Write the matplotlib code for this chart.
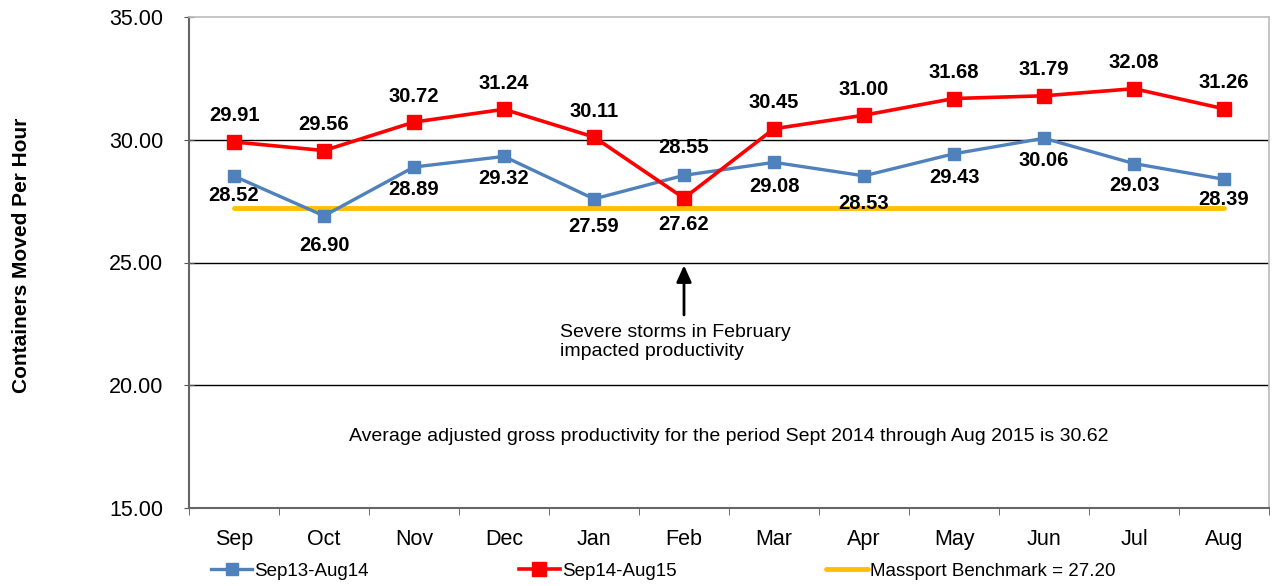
import matplotlib.pyplot as plt
import numpy as np

plt.rcParams['font.family'] = ['Liberation Sans', 'DejaVu Sans']

months = ['Sep', 'Oct', 'Nov', 'Dec', 'Jan', 'Feb', 'Mar', 'Apr', 'May', 'Jun', 'Jul', 'Aug']
prod_1314 = [28.52, 26.90, 28.89, 29.32, 27.59, 28.55, 29.08, 28.53, 29.43, 30.06, 29.03, 28.39]
prod_1415 = [29.91, 29.56, 30.72, 31.24, 30.11, 27.62, 30.45, 31.00, 31.68, 31.79, 32.08, 31.26]
benchmark = 27.20

# label offsets in pixels (dy), positive = above
off_1314 = [-19, -30, -22, -22, -28, 28, -24, -28, -24, -22, -22, -20]
off_1415 = [26, 26, 26, 26, 26, -26, 26, 26, 26, 26, 26, 26]


def main():
    fig = plt.figure(figsize=(12.75, 5.86), dpi=100)
    ax = fig.add_axes([189 / 1275, 1 - 508 / 586, (1269 - 189) / 1275, (508 - 17) / 586])

    x = np.arange(len(months))
    ax.plot(x, [benchmark] * len(x), color='#FFC000', lw=3.5, solid_capstyle='round',
            label='Massport Benchmark = 27.20', zorder=2)
    ax.plot(x, prod_1314, color='#4F81BD', lw=2.4, marker='s', ms=9, label='Sep13-Aug14', zorder=3)
    ax.plot(x, prod_1415, color='#FF0000', lw=2.6, marker='s', ms=10.5, label='Sep14-Aug15', zorder=4)

    for i in range(len(x)):
        ax.annotate('%.2f' % prod_1314[i], (x[i], prod_1314[i]), xytext=(0, off_1314[i] * 0.72),
                    textcoords='offset points', ha='center', va='center', fontsize=14.5,
                    fontweight='bold', zorder=5)
        ax.annotate('%.2f' % prod_1415[i], (x[i], prod_1415[i]), xytext=(0, off_1415[i] * 0.72),
                    textcoords='offset points', ha='center', va='center', fontsize=14.5,
                    fontweight='bold', zorder=5)

    ax.annotate('', xy=(5, 25.0), xytext=(5, 22.75),
                arrowprops=dict(arrowstyle='-|>,head_width=0.45,head_length=1.0', color='black', lw=2))
    ax.text(3.62, 21.75, 'Severe storms in February\nimpacted productivity', fontsize=14,
            ha='left', va='center', linespacing=1.15)
    ax.text(5.5, 17.9, 'Average adjusted gross productivity for the period Sept 2014 through Aug 2015 is 30.62',
            fontsize=14, ha='center', va='center')

    ax.set_xlim(-0.5, 11.5)
    ax.set_ylim(15, 35)
    ax.set_yticks([15, 20, 25, 30, 35])
    ax.set_yticklabels(['%.2f' % v for v in [15, 20, 25, 30, 35]], fontsize=15.5)
    ax.set_xticks(x)
    ax.set_xticklabels(months, fontsize=15.5)
    ax.set_xticks(np.arange(-0.5, 12, 1), minor=True)
    ax.tick_params(axis='x', which='major', length=0, pad=15)
    ax.tick_params(axis='x', which='minor', length=5, color='#555555')
    ax.tick_params(axis='y', length=7, direction='inout', color='#555555', pad=15)
    for v in [20, 25, 30]:
        ax.axhline(v, color='black', lw=1, zorder=1)
    for s in ['left', 'bottom']:
        ax.spines[s].set_color('#666666')
        ax.spines[s].set_linewidth(1.5)
    for s in ['top', 'right']:
        ax.spines[s].set_color('#BBBBBB')
        ax.spines[s].set_linewidth(1.2)

    fig.text(22 / 1275, 1 - 255 / 586, 'Containers Moved Per Hour', rotation=90, fontsize=15,
             fontweight='bold', ha='center', va='center')

    h, l = ax.get_legend_handles_labels()
    order = [1, 2, 0]
    fig.legend([h[k] for k in order], [l[k] for k in order], loc='center', ncol=3,
               bbox_to_anchor=(0.52, 1 - 571 / 586), frameon=False, fontsize=13.5,
               handlelength=2.2, handletextpad=0.1, columnspacing=8.0, borderaxespad=0)

    plt.savefig('out.png', dpi=100)


if __name__ == "__main__":
    main()
